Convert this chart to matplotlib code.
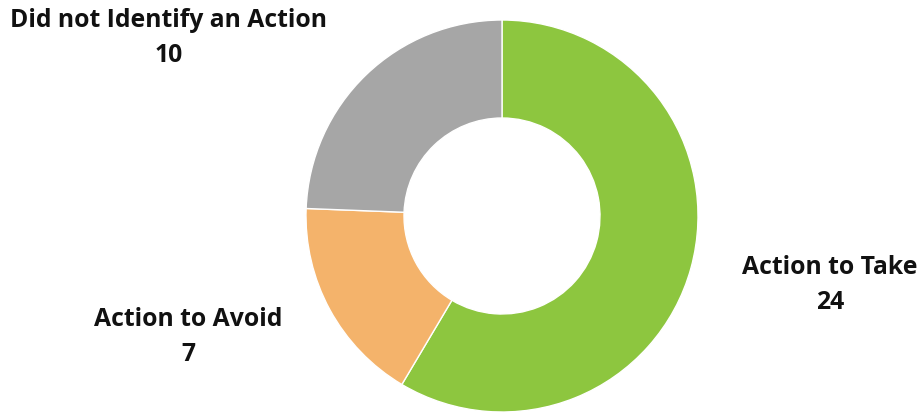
import matplotlib
matplotlib.use("Agg")
import matplotlib.pyplot as plt

# Data
categories = ["Action to Take", "Action to Avoid", "Did not Identify an Action"]
counts = [24, 7, 10]
colors = ["#8DC63F", "#F4B36B", "#A6A6A6"]

# label anchor points in figure pixels (x from left, y from top)
label_pos = [(830, 285), (188, 337), (169, 38)]

W, H = 919, 413
fig = plt.figure(figsize=(W / 100, H / 100), dpi=100)

# donut centred at (502, 216) px, outer radius 196 px
cx, cy, r = 502, 216, 196
ax = fig.add_axes([(cx - r) / W, (H - cy - r) / H, 2 * r / W, 2 * r / H])
ax.pie(counts, colors=colors, startangle=90, counterclock=False, radius=1,
       wedgeprops=dict(width=0.5, edgecolor="white", linewidth=1))
ax.set_xlim(-1, 1)
ax.set_ylim(-1, 1)
ax.set_aspect("equal")
ax.axis("off")

for name, val, (px, py) in zip(categories, counts, label_pos):
    fig.text(px / W, 1 - py / H, f"{name}\n{val}", ha="center", va="center",
             fontsize=17.8, fontweight="bold", family="Open Sans",
             color="#111111", linespacing=1.5)

fig.savefig("out.png", dpi=100)
